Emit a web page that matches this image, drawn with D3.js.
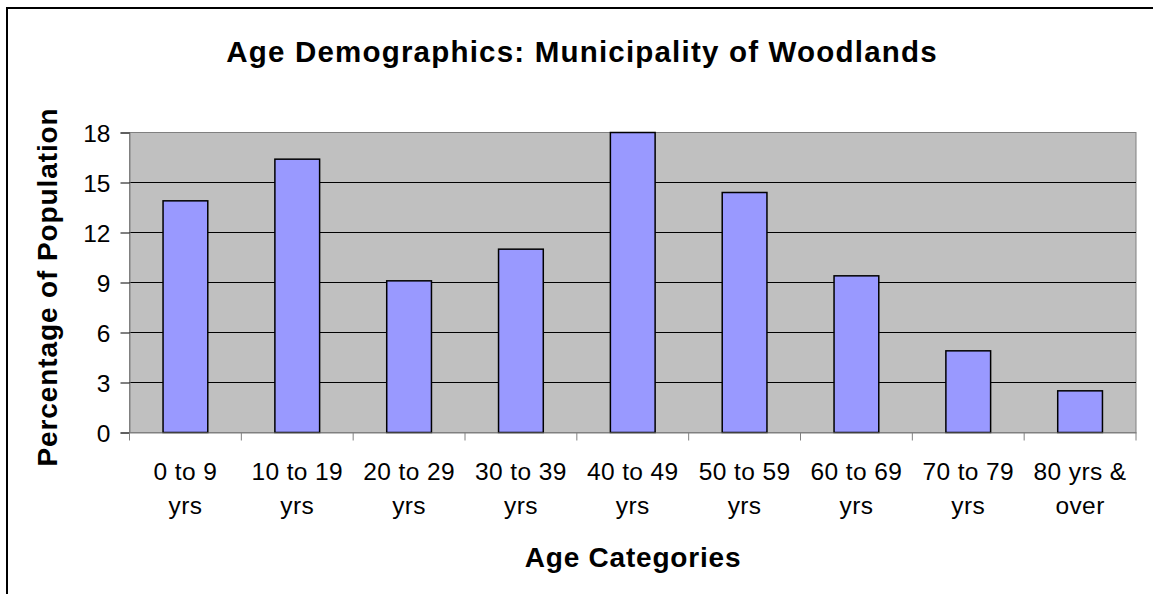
<!DOCTYPE html>
<html><head><meta charset="utf-8">
<script src="https://cdn.jsdelivr.net/npm/d3@7"></script>
<style>body{margin:0;background:#fff}svg{display:block;font-family:"Liberation Sans",Arial,sans-serif}</style>
</head><body>
<svg id="c" width="1153" height="594"></svg>
<script>
const categories = ["0 to 9|yrs","10 to 19|yrs","20 to 29|yrs","30 to 39|yrs","40 to 49|yrs","50 to 59|yrs","60 to 69|yrs","70 to 79|yrs","80 yrs &|over"];
const values = [13.9, 16.4, 9.1, 11.0, 18.0, 14.4, 9.4, 4.9, 2.5];
const yTicks = [0, 3, 6, 9, 12, 15, 18];
const title = "Age Demographics: Municipality of Woodlands";
const xTitle = "Age Categories";
const yTitle = "Percentage of Population";

const svg = d3.select("#c");
const L = 129.5, R = 1136, T = 132.5, B = 432.5;
const FF = "Liberation Sans, Arial, sans-serif";

// outer frame
svg.append("rect").attr("x", 7).attr("y", 8).attr("width", 1160).attr("height", 600)
  .attr("fill", "#fff").attr("stroke", "#000").attr("stroke-width", 2);

const x = d3.scaleBand().domain(categories).range([L, R]).paddingInner(0).paddingOuter(0);
const y = d3.scaleLinear().domain([0, 18]).range([B, T]);

// plot area
svg.append("rect").attr("x", L).attr("y", T).attr("width", R - L).attr("height", B - T)
  .attr("fill", "#c0c0c0").attr("stroke", "#808080").attr("stroke-width", 1);

// gridlines
svg.append("g").selectAll("line").data(yTicks.filter(d => d > 0 && d < 18)).join("line")
  .attr("x1", L).attr("x2", R).attr("y1", d => y(d)).attr("y2", d => y(d))
  .attr("stroke", "#000").attr("stroke-width", 1);

// bars
const bw = x.bandwidth() / 2.5;
svg.append("g").selectAll("rect").data(values).join("rect")
  .attr("x", (d, i) => x(categories[i]) + (x.bandwidth() - bw) / 2)
  .attr("y", d => y(d))
  .attr("width", bw)
  .attr("height", d => y(0) - y(d))
  .attr("fill", "#9999ff").attr("stroke", "#000").attr("stroke-width", 1.5);

// y axis
const ya = svg.append("g").attr("transform", `translate(${L},0)`)
  .call(d3.axisLeft(y).tickValues(yTicks).tickSize(9).tickPadding(10).tickFormat(d3.format("d")));
ya.select(".domain").attr("stroke", "#808080");
ya.selectAll(".tick line").attr("stroke", "#000");
ya.selectAll("text").attr("font-size", 24.5).attr("fill", "#000").attr("font-family", FF).attr("dy", "0.36em");

// x axis
const xa = svg.append("g").attr("transform", `translate(0,${B})`)
  .call(d3.axisBottom(x).tickSize(0).tickFormat(""));
xa.select(".domain").attr("stroke", "#808080");
const tickPos = categories.map(c => x(c)).concat([R]);
svg.append("g").selectAll("line").data(tickPos).join("line")
  .attr("x1", d => d).attr("x2", d => d).attr("y1", B).attr("y2", B + 8)
  .attr("stroke", "#808080");

// x labels
const lbl = svg.append("g").selectAll("text").data(categories).join("text")
  .attr("x", d => x(d) + x.bandwidth() / 2).attr("text-anchor", "middle")
  .attr("font-size", 24.5).attr("letter-spacing", 0.4).attr("fill", "#000");
lbl.each(function(d) {
  const parts = d.split("|");
  const t = d3.select(this);
  parts.forEach((p, i) => t.append("tspan").attr("x", x(d) + x.bandwidth() / 2).attr("y", 480 + i * 34).text(p));
});

// titles
svg.append("text").attr("x", 582).attr("y", 62).attr("text-anchor", "middle")
  .attr("font-size", 29.5).attr("letter-spacing", 1.2).attr("font-weight", "bold").text(title);
svg.append("text").attr("x", 633).attr("y", 567).attr("text-anchor", "middle")
  .attr("font-size", 28).attr("letter-spacing", 0.8).attr("font-weight", "bold").text(xTitle);
svg.append("text").attr("transform", "translate(57,287) rotate(-90)").attr("text-anchor", "middle")
  .attr("font-size", 28).attr("letter-spacing", 0.9).attr("font-weight", "bold").text(yTitle);
</script>
</body></html>
